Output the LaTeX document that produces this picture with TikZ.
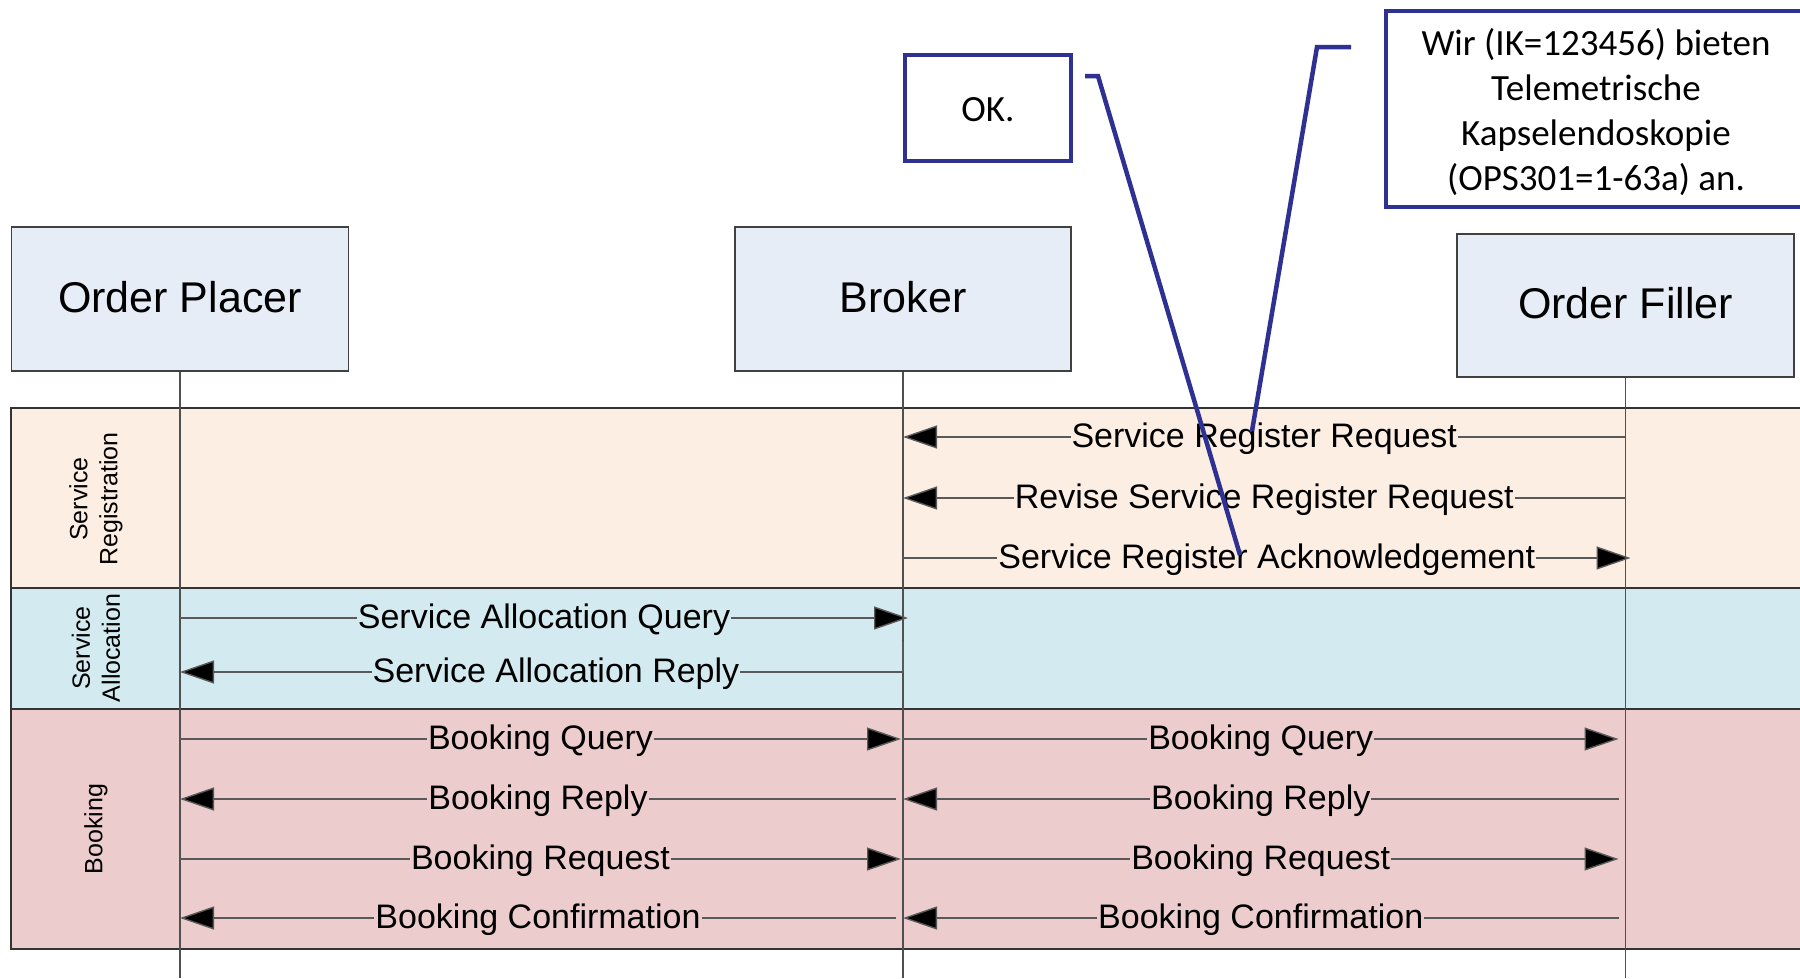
\documentclass[tikz,border=0pt]{standalone}
\usepackage{fontspec}
\setmainfont{Liberation Sans}
\newfontfamily\calibrifont{Carlito}
\usetikzlibrary{arrows.meta}
\definecolor{boxfill}{RGB}{230,237,247}
\definecolor{bandSR}{RGB}{253,238,228}
\definecolor{bandSA}{RGB}{210,234,240}
\definecolor{bandBK}{RGB}{236,204,204}
\definecolor{navy}{RGB}{46,49,146}
\definecolor{lifegray}{RGB}{80,80,80}
\tikzset{
  actor/.style={draw=black!75, line width=1.2pt, fill=boxfill, minimum width=337pt, minimum height=144pt, inner sep=0pt},
  actortext/.style={font=\fontsize{43}{50}\selectfont, inner sep=0pt},
  lifeline/.style={draw=lifegray, line width=1.3pt},
  bandline/.style={draw=black!80, line width=1.8pt},
  msgline/.style={draw=black!65, line width=1.4pt},
  msgarrow/.style={msgline, -{Triangle[length=34pt,width=23pt,fill=black]}},
  msglabel/.style={inner xsep=1pt, inner ysep=2pt, yshift=-2pt, font=\fontsize{34}{39}\selectfont},
  bandlabel/.style={rotate=90, align=center, font=\fontsize{25}{30}\selectfont},
  callout/.style={draw=navy, line width=4.5pt},
  calloutbox/.style={draw=navy, line width=4.5pt, fill=white, inner sep=0pt},
  callouttext/.style={align=center, inner sep=0pt, font=\calibrifont\fontsize{37}{45}\selectfont}
}
\begin{document}
\begin{tikzpicture}[x=1pt,y=-1pt]
\useasboundingbox (0,0) rectangle (1800,978);
\clip (0,0) rectangle (1800,978);
\fill[white] (0,0) rectangle (1800,978);

% bands
\fill[bandSR] (11,408) rectangle (1805,588);
\fill[bandSA] (11,588) rectangle (1805,709);
\fill[bandBK] (11,709) rectangle (1805,949);
\draw[bandline] (1805,408) -- (11,408) -- (11,949) -- (1805,949);
\draw[bandline] (11,588) -- (1805,588);
\draw[bandline] (11,709) -- (1805,709);

\node[bandlabel] (lsr) at (96,499) {Service\\Registration};
\node[bandlabel] (lsa) at (96,648) {Service\\Allocation};
\node[bandlabel] (lbk) at (96,829) {Booking};

% actors
\node[actor] (op) at (180,299) {};
\node[actor, minimum width=336pt] (br) at (903,299) {};
\node[actor, minimum height=143pt] (of) at (1625.5,305.5) {};
\node[actortext] (opt) at ([yshift=2pt]op.center) {Order Placer};
\node[actortext] (brt) at ([yshift=2pt]br.center) {Broker};
\node[actortext] (oft) at ([yshift=2pt]of.center) {Order Filler};

% lifelines
\draw[lifeline] (op.south) -- (op.south |- 0,978);
\draw[lifeline] (br.south) -- (br.south |- 0,978);
\draw[lifeline] (of.south) -- (of.south |- 0,978);

% Service registration
\draw[msgarrow] (of.south |- 0,437) -- (br.south |- 0,437)
  node[msglabel, fill=bandSR, pos=0.5] (m1) {Service Register Request};
\draw[msgarrow] (of.south |- 0,498) -- (br.south |- 0,498)
  node[msglabel, fill=bandSR, pos=0.5] (m2) {Revise Service Register Request};
\coordinate (ackend) at ([xshift=5pt]of.south |- 0,558);
\draw[msgarrow] (br.south |- 0,558) -- (ackend)
  node[msglabel, fill=bandSR, pos=0.5] (m3) {Service Register Acknowledgement};

% Service allocation
\coordinate (saqend) at ([xshift=5pt]br.south |- 0,618);
\draw[msgarrow] (op.south |- 0,618) -- (saqend)
  node[msglabel, fill=bandSA, pos=0.5] (m4) {Service Allocation Query};
\coordinate (sarstart) at (br.south |- 0,642);
\coordinate (sarcorner) at (br.south |- 0,672);
\draw[msgline] (sarstart) -- (sarcorner);
\draw[msgarrow] (sarcorner) -- (op.south |- 0,672)
  node[msglabel, fill=bandSA, pos=0.48] (m5) {Service Allocation Reply};

% Booking: left
\coordinate (bqL) at ([xshift=-2pt]br.south |- 0,739);
\coordinate (brL) at ([xshift=-7pt]br.south |- 0,799);
\coordinate (bqqL) at ([xshift=-2pt]br.south |- 0,859);
\coordinate (bcL) at ([xshift=-7pt]br.south |- 0,918);
\draw[msgarrow] (op.south |- 0,739) -- (bqL)
  node[msglabel, fill=bandBK, pos=0.5] (m6) {Booking Query};
\draw[msgarrow] (brL) -- (op.south |- 0,799)
  node[msglabel, fill=bandBK, pos=0.5] (m7) {Booking Reply};
\draw[msgarrow] (op.south |- 0,859) -- (bqqL)
  node[msglabel, fill=bandBK, pos=0.5] (m8) {Booking Request};
\draw[msgarrow] (bcL) -- (op.south |- 0,918)
  node[msglabel, fill=bandBK, pos=0.5] (m9) {Booking Confirmation};

% Booking: right
\coordinate (bqR) at ([xshift=-7pt]of.south |- 0,739);
\coordinate (brR) at ([xshift=-7pt]of.south |- 0,799);
\coordinate (bqqR) at ([xshift=-7pt]of.south |- 0,859);
\coordinate (bcR) at ([xshift=-7pt]of.south |- 0,918);
\draw[msgarrow] (br.south |- 0,739) -- (bqR)
  node[msglabel, fill=bandBK, pos=0.5] (m10) {Booking Query};
\draw[msgarrow] (brR) -- (br.south |- 0,799)
  node[msglabel, fill=bandBK, pos=0.5] (m11) {Booking Reply};
\draw[msgarrow] (br.south |- 0,859) -- (bqqR)
  node[msglabel, fill=bandBK, pos=0.5] (m12) {Booking Request};
\draw[msgarrow] (bcR) -- (br.south |- 0,918)
  node[msglabel, fill=bandBK, pos=0.5] (m13) {Booking Confirmation};

% callouts
\node[calloutbox, minimum width=166pt, minimum height=106pt] (ok) at (988,108) {};
\node[callouttext] (okt) at ([yshift=-2pt]ok.center) {OK.};
\node[calloutbox, minimum width=420pt, minimum height=196pt] (offer) at (1596,109) {};
\node[callouttext] (offert) at ([yshift=-3pt]offer.center)
  {Wir (IK=123456) bieten\\Telemetrische\\Kapselendoskopie\\(OPS301=1-63a) an.};
\coordinate (c1a) at (1085,76);
\coordinate (c1b) at (1098,76);
\coordinate (c1c) at (1240,555);
\draw[callout] (c1a) -- (c1b) -- (c1c);
\coordinate (c2a) at (1351,47);
\coordinate (c2b) at (1317,47);
\coordinate (c2c) at (1252,431);
\draw[callout] (c2a) -- (c2b) -- (c2c);
\end{tikzpicture}
\end{document}
